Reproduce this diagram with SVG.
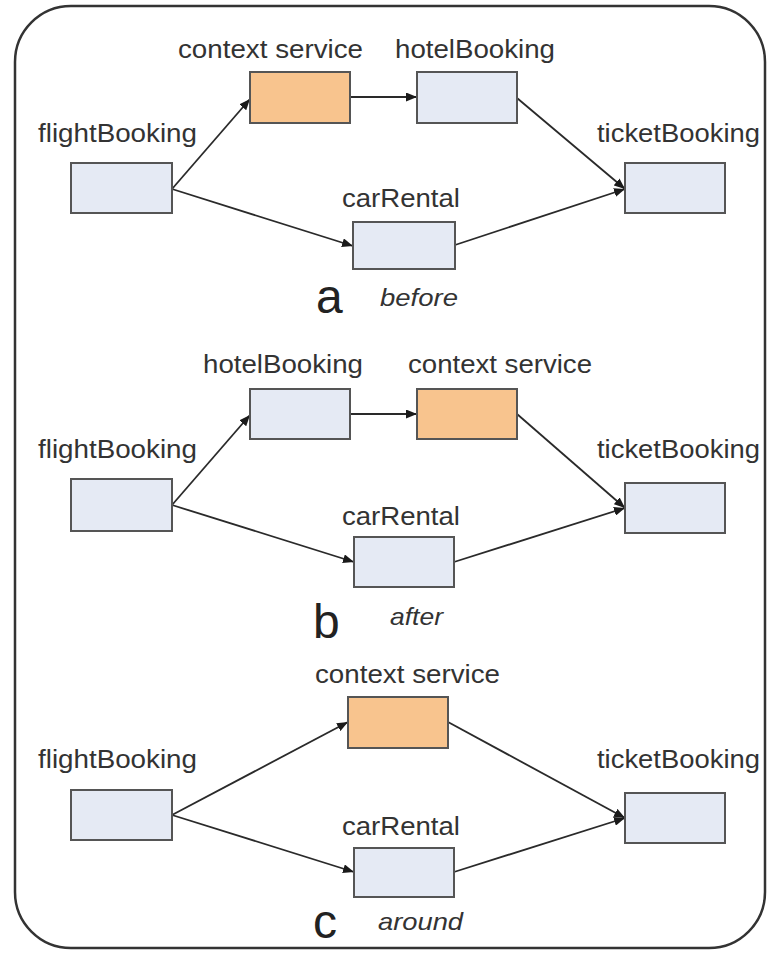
<svg xmlns="http://www.w3.org/2000/svg" width="767" height="953" viewBox="0 0 767 953">
  <style>
    .frame { fill: #ffffff; stroke: #333333; stroke-width: 2.5; }
    .svc { fill: #E5EAF4; stroke: #555555; stroke-width: 2; }
    .ctx { fill: #F8C48E; stroke: #555555; stroke-width: 2; }
    .lbl { font-family: "Liberation Sans", Arial, sans-serif; font-size: 26px; fill: #333333; }
    .tag { font-family: "Liberation Sans", Arial, sans-serif; font-size: 48px; fill: #222222; }
    .mode { font-family: "Liberation Sans", Arial, sans-serif; font-size: 24px; font-style: italic; fill: #333333; }
    .edge { fill: none; stroke: #2a2a2a; stroke-width: 1.8; marker-end: url(#arrow); }
  </style>
  <defs>
    <marker id="arrow" markerUnits="userSpaceOnUse" markerWidth="12" markerHeight="9" refX="11" refY="4.5" orient="auto">
      <path d="M0,0 L11,4.5 L0,9 z" fill="#1a1a1a"/>
    </marker>
  </defs>

  <rect class="frame" x="15" y="6" width="750" height="942" rx="56" ry="56"/>

  <!-- connectors -->
  <g id="connectors">
    <!-- a: before -->
    <line class="edge" x1="172" y1="189" x2="250" y2="99"/>
    <line class="edge" x1="172" y1="189" x2="353" y2="246"/>
    <line class="edge" x1="350" y1="97" x2="417" y2="97"/>
    <line class="edge" x1="517" y1="98" x2="625" y2="189"/>
    <line class="edge" x1="455" y1="245" x2="625" y2="189"/>
    <!-- b: after -->
    <line class="edge" x1="172" y1="505" x2="250" y2="415"/>
    <line class="edge" x1="172" y1="505" x2="354" y2="562"/>
    <line class="edge" x1="350" y1="414" x2="417" y2="414"/>
    <line class="edge" x1="517" y1="414" x2="625" y2="508"/>
    <line class="edge" x1="454" y1="562" x2="625" y2="508"/>
    <!-- c: around -->
    <line class="edge" x1="172" y1="815" x2="348" y2="722"/>
    <line class="edge" x1="172" y1="815" x2="354" y2="872"/>
    <line class="edge" x1="448" y1="722" x2="625" y2="818"/>
    <line class="edge" x1="454" y1="872" x2="625" y2="818"/>
  </g>

  <!-- a: before -->
  <g id="a-flightBooking">
    <rect class="svc" x="71" y="163" width="101" height="50"/>
    <text class="lbl" x="38" y="142" textLength="159" lengthAdjust="spacingAndGlyphs">flightBooking</text>
  </g>
  <g id="a-contextService">
    <rect class="ctx" x="250" y="72" width="100" height="51"/>
    <text class="lbl" x="178" y="58" textLength="185" lengthAdjust="spacingAndGlyphs">context service</text>
  </g>
  <g id="a-hotelBooking">
    <rect class="svc" x="417" y="72" width="100" height="51"/>
    <text class="lbl" x="395" y="58" textLength="160" lengthAdjust="spacingAndGlyphs">hotelBooking</text>
  </g>
  <g id="a-carRental">
    <rect class="svc" x="353" y="222" width="102" height="47"/>
    <text class="lbl" x="342" y="207" textLength="118" lengthAdjust="spacingAndGlyphs">carRental</text>
  </g>
  <g id="a-ticketBooking">
    <rect class="svc" x="625" y="163" width="100" height="50"/>
    <text class="lbl" x="597" y="142" textLength="163" lengthAdjust="spacingAndGlyphs">ticketBooking</text>
  </g>
  <g id="a-caption">
    <text class="tag" x="316" y="313">a</text>
    <text class="mode" x="380" y="306" textLength="78" lengthAdjust="spacingAndGlyphs">before</text>
  </g>

  <!-- b: after -->
  <g id="b-flightBooking">
    <rect class="svc" x="71" y="479" width="101" height="52"/>
    <text class="lbl" x="38" y="458" textLength="159" lengthAdjust="spacingAndGlyphs">flightBooking</text>
  </g>
  <g id="b-hotelBooking">
    <rect class="svc" x="250" y="389" width="100" height="50"/>
    <text class="lbl" x="203" y="373" textLength="160" lengthAdjust="spacingAndGlyphs">hotelBooking</text>
  </g>
  <g id="b-contextService">
    <rect class="ctx" x="417" y="389" width="100" height="50"/>
    <text class="lbl" x="408" y="373" textLength="184" lengthAdjust="spacingAndGlyphs">context service</text>
  </g>
  <g id="b-carRental">
    <rect class="svc" x="354" y="537" width="100" height="50"/>
    <text class="lbl" x="342" y="525" textLength="118" lengthAdjust="spacingAndGlyphs">carRental</text>
  </g>
  <g id="b-ticketBooking">
    <rect class="svc" x="625" y="483" width="100" height="50"/>
    <text class="lbl" x="597" y="458" textLength="163" lengthAdjust="spacingAndGlyphs">ticketBooking</text>
  </g>
  <g id="b-caption">
    <text class="tag" x="313" y="638">b</text>
    <text class="mode" x="390" y="625" textLength="53" lengthAdjust="spacingAndGlyphs">after</text>
  </g>

  <!-- c: around -->
  <g id="c-flightBooking">
    <rect class="svc" x="71" y="790" width="101" height="50"/>
    <text class="lbl" x="38" y="768" textLength="159" lengthAdjust="spacingAndGlyphs">flightBooking</text>
  </g>
  <g id="c-contextService">
    <rect class="ctx" x="348" y="697" width="100" height="51"/>
    <text class="lbl" x="315" y="683" textLength="185" lengthAdjust="spacingAndGlyphs">context service</text>
  </g>
  <g id="c-carRental">
    <rect class="svc" x="354" y="848" width="100" height="49"/>
    <text class="lbl" x="342" y="835" textLength="118" lengthAdjust="spacingAndGlyphs">carRental</text>
  </g>
  <g id="c-ticketBooking">
    <rect class="svc" x="625" y="793" width="100" height="50"/>
    <text class="lbl" x="597" y="768" textLength="163" lengthAdjust="spacingAndGlyphs">ticketBooking</text>
  </g>
  <g id="c-caption">
    <text class="tag" x="313" y="938">c</text>
    <text class="mode" x="378" y="930" textLength="85" lengthAdjust="spacingAndGlyphs">around</text>
  </g>
</svg>
